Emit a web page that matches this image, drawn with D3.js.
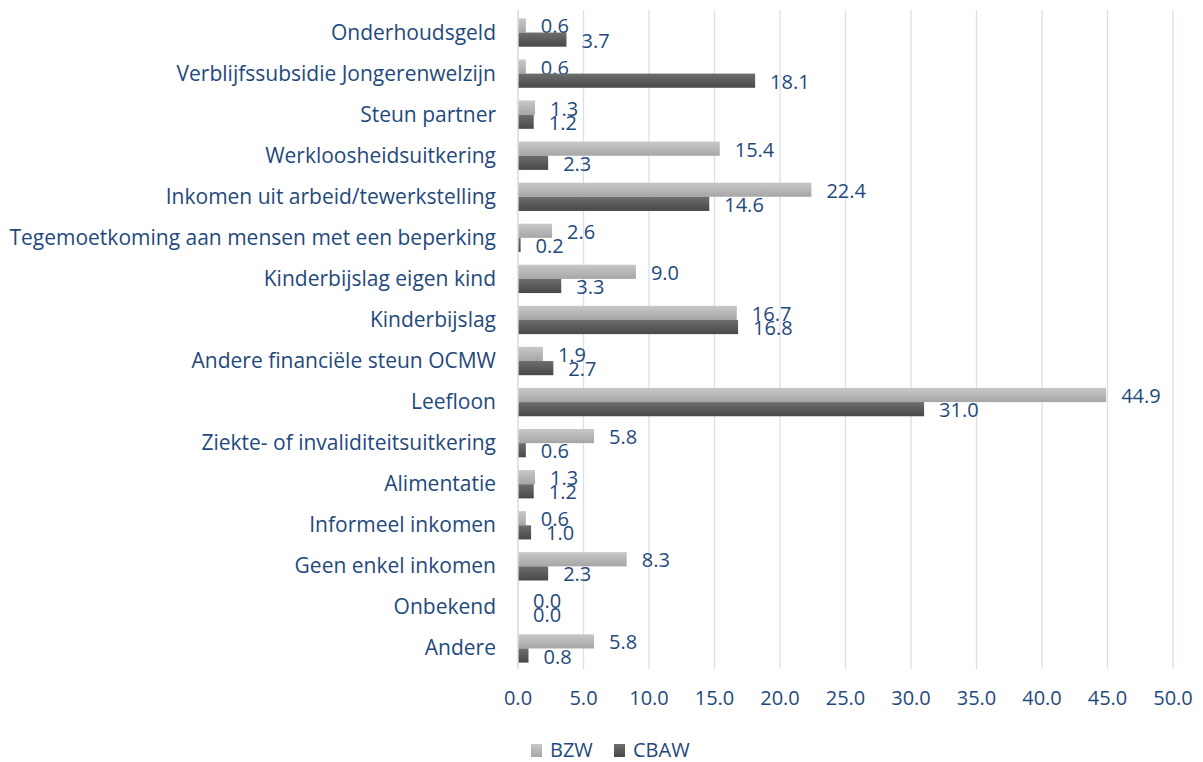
<!DOCTYPE html>
<html><head><meta charset="utf-8">
<script src="https://cdn.jsdelivr.net/npm/d3@7"></script>
<style>body{margin:0;background:#fff;} text{font-family:"Open Sans","Noto Sans",sans-serif;}</style>
</head><body><svg id="c" width="1203" height="762"></svg>
<script>
const categories = ["Onderhoudsgeld","Verblijfssubsidie Jongerenwelzijn","Steun partner","Werkloosheidsuitkering","Inkomen uit arbeid/tewerkstelling","Tegemoetkoming aan mensen met een beperking","Kinderbijslag eigen kind","Kinderbijslag","Andere financiële steun OCMW","Leefloon","Ziekte- of invaliditeitsuitkering","Alimentatie","Informeel inkomen","Geen enkel inkomen","Onbekend","Andere"];
const bzw  = [0.6,0.6,1.3,15.4,22.4,2.6,9.0,16.7,1.9,44.9,5.8,1.3,0.6,8.3,0.0,5.8];
const cbaw = [3.7,18.1,1.2,2.3,14.6,0.2,3.3,16.8,2.7,31.0,0.6,1.2,1.0,2.3,0.0,0.8];
const seriesNames = ["BZW","CBAW"];
const xTicks = [0,5,10,15,20,25,30,35,40,45,50];

const svg = d3.select("#c");
const txt = "#1f497d";
const fs = 21;
const x = d3.scaleLinear().domain([0,50]).range([518,1173]);
const y = d3.scaleBand().domain(categories).range([12,669]).paddingInner(0.31).paddingOuter(0.155);
const defs = svg.append("defs");
function grad(id, c1, c2){
  const g = defs.append("linearGradient").attr("id",id).attr("x1",0).attr("y1",0).attr("x2",0).attr("y2",1);
  g.append("stop").attr("offset","0%").attr("stop-color",c1);
  g.append("stop").attr("offset","100%").attr("stop-color",c2);
}
grad("gB","#c8c8c8","#a6a6a6");
grad("gC","#6e6e6e","#484848");

// gridlines
svg.append("g").selectAll("line").data(xTicks).join("line")
  .attr("x1",d=>x(d)).attr("x2",d=>x(d)).attr("y1",10).attr("y2",669)
  .attr("stroke","#d6e0ef").attr("stroke-width",1.3);

// x tick labels
svg.append("g").selectAll("text").data(xTicks).join("text")
  .attr("x",d=>x(d)).attr("y",705).attr("text-anchor","middle")
  .attr("fill",txt).attr("font-size",20).text(d=>d.toFixed(1));

// category labels
svg.append("g").selectAll("text").data(categories).join("text")
  .attr("x",496).attr("y",d=>y(d)+y.bandwidth()/2+7).attr("text-anchor","end")
  .attr("fill",txt).attr("font-size",fs).text(d=>d);

const bh = y.bandwidth()/2;
const series = [{name:seriesNames[0],vals:bzw,fill:"url(#gB)",off:0},{name:seriesNames[1],vals:cbaw,fill:"url(#gC)",off:bh}];
series.forEach(s=>{
  const g = svg.append("g");
  g.selectAll("rect").data(categories).join("rect")
    .attr("x",x(0)).attr("y",(d)=>y(d)+s.off).attr("height",bh)
    .attr("width",(d,i)=>x(s.vals[i])-x(0)).attr("fill",s.fill);
  g.selectAll("text").data(categories).join("text")
    .attr("x",(d,i)=>x(s.vals[i])+15).attr("y",d=>y(d)+s.off+bh/2+8)
    .attr("fill",txt).attr("font-size",20).text((d,i)=>s.vals[i].toFixed(1));
});

// axis baseline
svg.append("line").attr("x1",x(0)).attr("x2",x(0)).attr("y1",10).attr("y2",669).attr("stroke","#d6e0ef").attr("stroke-width",1.3);

// legend
const lg = svg.append("g");
const lx = [531,614];
series.forEach((s,i)=>{
  lg.append("rect").attr("x",lx[i]).attr("y",744).attr("width",11).attr("height",13).attr("fill",s.fill);
  lg.append("text").attr("x",lx[i]+19).attr("y",757).attr("fill",txt).attr("font-size",20).text(s.name);
});
</script></body></html>
